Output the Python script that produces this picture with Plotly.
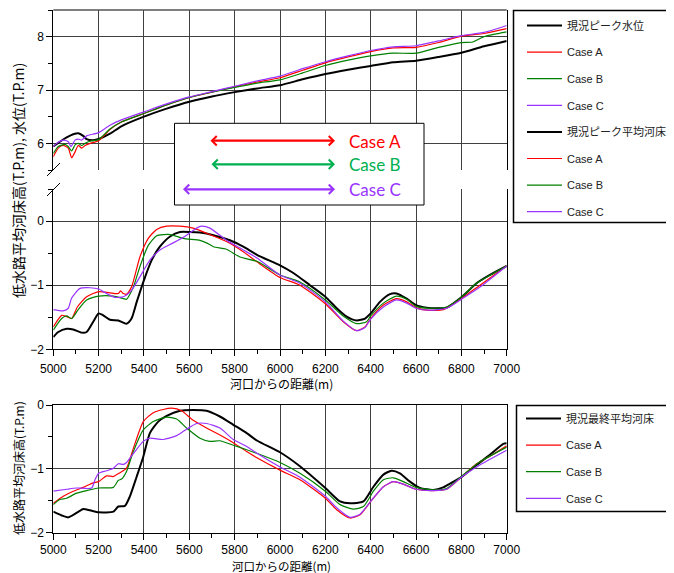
import plotly.graph_objects as go

# The page body has an 8 px margin, so the figure is drawn 8 px smaller
# and every reference pixel position is shifted by that offset.
OFF = 8
W, H = 674 - OFF, 573 - OFF

# ---------------- data ----------------
# Top chart: peak water level (水位)
wl_now_x = [5000, 5029, 5059, 5088, 5110, 5132, 5147, 5176, 5200, 5250, 5300, 5400, 5500, 5600, 5700, 5800, 5900, 6000, 6100, 6200, 6300, 6400, 6500, 6600, 6700, 6800, 6900, 7000]
wl_now_y = [5.94, 6.03, 6.11, 6.17, 6.19, 6.14, 6.08, 6.06, 6.08, 6.18, 6.32, 6.50, 6.65, 6.78, 6.88, 6.96, 7.03, 7.09, 7.20, 7.30, 7.38, 7.45, 7.52, 7.55, 7.62, 7.70, 7.82, 7.92]

wl_a_x = [5000, 5022, 5044, 5066, 5081, 5096, 5110, 5125, 5140, 5162, 5200, 5250, 5300, 5400, 5500, 5600, 5700, 5800, 5900, 6000, 6100, 6200, 6300, 6400, 6500, 6600, 6700, 6800, 6900, 7000]
wl_a_y = [5.75, 5.91, 5.96, 5.91, 5.73, 5.84, 5.96, 5.91, 5.96, 6.00, 6.05, 6.26, 6.40, 6.56, 6.72, 6.86, 6.96, 7.06, 7.15, 7.23, 7.37, 7.51, 7.62, 7.72, 7.79, 7.80, 7.89, 8.01, 8.06, 8.15]

wl_b_x = [5000, 5022, 5051, 5066, 5081, 5096, 5110, 5125, 5140, 5162, 5200, 5250, 5300, 5400, 5500, 5600, 5700, 5800, 5900, 6000, 6100, 6200, 6300, 6400, 6500, 6600, 6700, 6800, 6850, 6900, 7000]
wl_b_y = [5.81, 5.94, 5.98, 5.94, 5.86, 5.97, 6.00, 5.96, 6.00, 6.04, 6.07, 6.27, 6.40, 6.56, 6.72, 6.86, 6.96, 7.05, 7.13, 7.19, 7.32, 7.46, 7.56, 7.64, 7.69, 7.69, 7.80, 7.89, 7.90, 8.00, 8.09]

wl_c_x = [5000, 5022, 5044, 5066, 5078, 5096, 5110, 5125, 5147, 5200, 5250, 5300, 5400, 5500, 5600, 5700, 5800, 5900, 6000, 6100, 6200, 6300, 6400, 6500, 6600, 6700, 6800, 6900, 7000]
wl_c_y = [5.94, 6.02, 6.06, 6.03, 5.94, 6.06, 6.08, 6.06, 6.14, 6.20, 6.34, 6.44, 6.59, 6.74, 6.87, 6.97, 7.07, 7.17, 7.26, 7.40, 7.53, 7.64, 7.74, 7.81, 7.83, 7.92, 8.02, 8.08, 8.21]

# Top chart: mean riverbed at peak (平均河床)
bed_now_x = [5000, 5022, 5059, 5088, 5125, 5147, 5176, 5200, 5220, 5250, 5287, 5323, 5345, 5368, 5400, 5434, 5470, 5515, 5559, 5603, 5647, 5706, 5779, 5838, 5900, 6000, 6059, 6132, 6200, 6250, 6294, 6338, 6375, 6400, 6441, 6485, 6514, 6559, 6600, 6647, 6691, 6735, 6800, 6867, 6926, 7000]
bed_now_y = [-1.81, -1.73, -1.68, -1.69, -1.74, -1.73, -1.57, -1.44, -1.47, -1.54, -1.55, -1.60, -1.52, -1.26, -0.92, -0.61, -0.40, -0.24, -0.17, -0.17, -0.18, -0.22, -0.30, -0.40, -0.53, -0.69, -0.81, -1.00, -1.18, -1.36, -1.49, -1.55, -1.52, -1.44, -1.26, -1.14, -1.13, -1.21, -1.31, -1.35, -1.36, -1.35, -1.19, -0.97, -0.84, -0.70]

bed_a_x = [5000, 5037, 5059, 5081, 5106, 5147, 5200, 5250, 5287, 5297, 5309, 5323, 5345, 5382, 5419, 5456, 5500, 5559, 5617, 5676, 5764, 5838, 5900, 6000, 6088, 6200, 6279, 6338, 6375, 6400, 6456, 6514, 6559, 6600, 6647, 6720, 6800, 6882, 7000]
bed_a_y = [-1.65, -1.47, -1.49, -1.52, -1.34, -1.18, -1.10, -1.12, -1.13, -1.09, -1.13, -1.14, -1.03, -0.56, -0.27, -0.13, -0.08, -0.08, -0.11, -0.19, -0.32, -0.48, -0.64, -0.88, -1.00, -1.29, -1.57, -1.71, -1.65, -1.52, -1.31, -1.21, -1.26, -1.35, -1.39, -1.38, -1.21, -1.00, -0.70]

bed_b_x = [5000, 5037, 5059, 5081, 5110, 5147, 5200, 5265, 5309, 5323, 5353, 5382, 5419, 5456, 5515, 5573, 5647, 5676, 5706, 5764, 5823, 5900, 6000, 6088, 6200, 6279, 6338, 6382, 6400, 6456, 6514, 6559, 6600, 6676, 6735, 6800, 6867, 7000]
bed_b_y = [-1.70, -1.52, -1.48, -1.52, -1.38, -1.23, -1.17, -1.17, -1.21, -1.22, -1.03, -0.71, -0.38, -0.23, -0.21, -0.27, -0.30, -0.34, -0.40, -0.44, -0.56, -0.63, -0.84, -0.95, -1.23, -1.48, -1.60, -1.57, -1.48, -1.28, -1.17, -1.22, -1.33, -1.36, -1.34, -1.19, -0.97, -0.70]

bed_c_x = [5000, 5044, 5066, 5081, 5118, 5162, 5200, 5235, 5272, 5309, 5345, 5382, 5426, 5470, 5529, 5588, 5632, 5654, 5691, 5764, 5838, 5900, 6000, 6088, 6200, 6279, 6338, 6375, 6400, 6456, 6514, 6559, 6600, 6661, 6735, 6800, 6882, 7000]
bed_c_y = [-1.38, -1.40, -1.36, -1.20, -1.05, -1.04, -1.06, -1.13, -1.19, -1.18, -1.08, -0.87, -0.61, -0.45, -0.34, -0.22, -0.11, -0.08, -0.11, -0.30, -0.45, -0.58, -0.84, -0.97, -1.26, -1.56, -1.71, -1.66, -1.53, -1.34, -1.23, -1.28, -1.36, -1.39, -1.36, -1.22, -1.03, -0.70]

# Bottom chart: final mean riverbed (最終平均河床)
fin_now_x = [5000, 5037, 5066, 5103, 5132, 5162, 5200, 5265, 5287, 5316, 5338, 5368, 5397, 5426, 5463, 5500, 5559, 5617, 5676, 5735, 5794, 5853, 5900, 6000, 6088, 6200, 6265, 6309, 6368, 6412, 6456, 6492, 6529, 6573, 6617, 6676, 6720, 6750, 6800, 6867, 6926, 6985, 7000]
fin_now_y = [-1.67, -1.73, -1.76, -1.69, -1.63, -1.65, -1.68, -1.67, -1.59, -1.58, -1.43, -1.12, -0.81, -0.44, -0.26, -0.17, -0.09, -0.08, -0.09, -0.18, -0.31, -0.44, -0.56, -0.74, -0.96, -1.30, -1.51, -1.54, -1.51, -1.28, -1.09, -1.03, -1.07, -1.20, -1.30, -1.33, -1.29, -1.23, -1.13, -0.94, -0.78, -0.61, -0.60]

fin_a_x = [5000, 5044, 5088, 5132, 5176, 5200, 5235, 5265, 5294, 5323, 5353, 5397, 5441, 5485, 5522, 5566, 5617, 5676, 5735, 5794, 5853, 5900, 6000, 6088, 6200, 6250, 6309, 6353, 6400, 6456, 6500, 6544, 6600, 6676, 6735, 6800, 6867, 6941, 7000]
fin_a_y = [-1.54, -1.43, -1.35, -1.29, -1.22, -1.20, -1.11, -1.12, -1.06, -0.99, -0.68, -0.26, -0.12, -0.07, -0.05, -0.09, -0.24, -0.36, -0.47, -0.59, -0.73, -0.83, -1.02, -1.17, -1.46, -1.64, -1.77, -1.72, -1.51, -1.28, -1.20, -1.24, -1.32, -1.34, -1.32, -1.13, -0.92, -0.77, -0.64]

fin_b_x = [5000, 5029, 5059, 5103, 5147, 5200, 5265, 5287, 5301, 5323, 5353, 5397, 5441, 5500, 5544, 5588, 5647, 5691, 5735, 5794, 5853, 5900, 6000, 6088, 6200, 6265, 6323, 6368, 6412, 6456, 6500, 6544, 6600, 6676, 6735, 6800, 6882, 7000]
fin_b_y = [-1.56, -1.48, -1.46, -1.38, -1.34, -1.30, -1.29, -1.18, -1.16, -1.04, -0.73, -0.39, -0.26, -0.19, -0.22, -0.36, -0.52, -0.57, -0.56, -0.63, -0.70, -0.76, -0.90, -1.07, -1.35, -1.56, -1.63, -1.59, -1.35, -1.17, -1.14, -1.20, -1.29, -1.33, -1.31, -1.12, -0.89, -0.66]

fin_c_x = [5000, 5059, 5103, 5169, 5184, 5200, 5235, 5265, 5287, 5309, 5323, 5353, 5397, 5426, 5485, 5544, 5588, 5632, 5676, 5735, 5794, 5853, 5900, 6000, 6088, 6200, 6250, 6309, 6353, 6400, 6456, 6500, 6544, 6600, 6676, 6735, 6800, 6882, 7000]
fin_c_y = [-1.35, -1.32, -1.30, -1.30, -1.17, -1.07, -1.03, -0.99, -0.92, -0.93, -0.90, -0.76, -0.57, -0.52, -0.54, -0.48, -0.38, -0.29, -0.29, -0.36, -0.54, -0.65, -0.76, -0.97, -1.13, -1.43, -1.61, -1.76, -1.71, -1.51, -1.28, -1.20, -1.24, -1.32, -1.34, -1.32, -1.13, -0.94, -0.71]

names_top = ["現況ピーク水位", "Case A", "Case B", "Case C", "現況ピーク平均河床", "Case A", "Case B", "Case C"]
names_bot = ["現況最終平均河床", "Case A", "Case B", "Case C"]
x_ticks = [5000, 5200, 5400, 5600, 5800, 6000, 6200, 6400, 6600, 6800, 7000]
x_title = "河口からの距離(m)"
y_title_top = "低水路平均河床高(T.P.m), 水位(T.P.m)"
y_title_bot = "低水路平均河床高(T.P.m)"
case_labels = ["Case A", "Case B", "Case C"]

# ---------------- style ----------------
BLACK = "#000000"
RED = "#ff0000"
GREEN = "#008000"
PURPLE = "#9933ff"
GRID = "#404040"
LATIN = "Liberation Sans, Noto Sans CJK JP, sans-serif"
CJK = "Noto Sans CJK JP, sans-serif"


def px(p):
    return (p - OFF) / W


def py(p):
    return 1 - (p - OFF) / H


fig = go.Figure()


def add(x, y, name, color, width, xa, ya, legend, grp):
    fig.add_trace(go.Scatter(
        x=x, y=y, name=name, mode="lines",
        line=dict(color=color, width=width, shape="spline", smoothing=0.6),
        xaxis=xa, yaxis=ya, legend=legend, legendgroup=grp,
    ))


add(wl_now_x, wl_now_y, names_top[0], BLACK, 2, "x", "y", "legend", "g1")
add(wl_a_x, wl_a_y, names_top[1], RED, 1.2, "x", "y", "legend", "g2")
add(wl_b_x, wl_b_y, names_top[2], GREEN, 1.2, "x", "y", "legend", "g3")
add(wl_c_x, wl_c_y, names_top[3], PURPLE, 1.2, "x", "y", "legend", "g4")
add(bed_now_x, bed_now_y, names_top[4], BLACK, 2, "x2", "y2", "legend", "g5")
add(bed_a_x, bed_a_y, names_top[5], RED, 1.2, "x2", "y2", "legend", "g6")
add(bed_b_x, bed_b_y, names_top[6], GREEN, 1.2, "x2", "y2", "legend", "g7")
add(bed_c_x, bed_c_y, names_top[7], PURPLE, 1.2, "x2", "y2", "legend", "g8")
add(fin_now_x, fin_now_y, names_bot[0], BLACK, 2, "x3", "y3", "legend2", "h1")
add(fin_a_x, fin_a_y, names_bot[1], RED, 1.2, "x3", "y3", "legend2", "h2")
add(fin_b_x, fin_b_y, names_bot[2], GREEN, 1.2, "x3", "y3", "legend2", "h3")
add(fin_c_x, fin_c_y, names_bot[3], PURPLE, 1.2, "x3", "y3", "legend2", "h4")

xdom = [px(53.3), px(506.7)]
tickfont = dict(family=LATIN, size=12, color="#000")


def xaxis(anchor, labels, line, mirror=False, standoff=2):
    return dict(
        domain=xdom, anchor=anchor, range=[5000, 7000], tickvals=x_ticks,
        showticklabels=labels, ticks="outside" if labels else "", ticklen=6,
        tickcolor=BLACK, showgrid=True, gridcolor=GRID, gridwidth=1,
        showline=line, linecolor=BLACK, linewidth=1, mirror=mirror,
        zeroline=False, tickfont=tickfont, ticklabelstandoff=standoff,
        automargin=False,
        minor=dict(dtick=100, tick0=5000, ticks="outside" if labels else "",
                   ticklen=4, tickcolor=BLACK, showgrid=False),
    )


def yaxis(dom, rng, anchor):
    return dict(
        domain=dom, anchor=anchor, range=rng, dtick=1, tick0=0,
        ticks="outside", ticklen=6, tickcolor=BLACK,
        showgrid=True, gridcolor=GRID, gridwidth=1,
        showline=True, linecolor=BLACK, linewidth=1, mirror=True,
        zeroline=False, tickfont=tickfont, automargin=False,
        minor=dict(dtick=0.5, tick0=0, ticks="outside", ticklen=4,
                   tickcolor=BLACK, showgrid=False),
    )


leg_font = dict(family=LATIN, size=11, color="#222")
fig.update_layout(
    width=W, height=H,
    margin=dict(l=0, r=0, t=0, b=0, autoexpand=False),
    paper_bgcolor="white", plot_bgcolor="white",
    xaxis=xaxis("y", False, False),
    yaxis=yaxis([py(170), py(10)], [5.5, 8.5], "x"),
    xaxis2=xaxis("y2", True, True),
    yaxis2=yaxis([py(349.3), py(189)], [-2, 0.5], "x2"),
    xaxis3=xaxis("y3", True, True, mirror=True, standoff=0),
    yaxis3=yaxis([py(532.7), py(405)], [-2, 0], "x3"),
    legend=dict(x=px(522), y=py(11), xanchor="left", yanchor="top",
                bgcolor="rgba(0,0,0,0)", borderwidth=0, font=leg_font,
                tracegroupgap=7.6, traceorder="grouped", itemwidth=35),
    legend2=dict(x=px(521), y=py(404), xanchor="left", yanchor="top",
                 bgcolor="rgba(0,0,0,0)", borderwidth=0, font=leg_font,
                 tracegroupgap=7.6, traceorder="grouped", itemwidth=35),
    showlegend=True,
)

shapes = []
# top border of upper panel
shapes.append(dict(type="line", xref="paper", yref="paper",
                   x0=px(53.3), x1=px(506.7), y0=py(10), y1=py(10),
                   line=dict(color="#555", width=1.5)))
# axis break marks
for a, b in [(176, 163), (196, 183)]:
    shapes.append(dict(type="line", xref="paper", yref="paper",
                       x0=px(47), y0=py(a), x1=px(60), y1=py(b),
                       line=dict(color=BLACK, width=1)))
# Case annotation box
shapes.append(dict(type="rect", xref="paper", yref="paper", layer="above",
                   x0=px(174.5), x1=px(424), y0=py(205), y1=py(123.3),
                   fillcolor="white", line=dict(color=BLACK, width=1)))
# legend frames
shapes.append(dict(type="rect", xref="paper", yref="paper",
                   x0=px(513.5), x1=px(673), y0=py(222.5), y1=py(10.5),
                   line=dict(color=BLACK, width=1.5)))
shapes.append(dict(type="rect", xref="paper", yref="paper",
                   x0=px(516.5), x1=px(673), y0=py(511.5), y1=py(405.5),
                   line=dict(color=BLACK, width=1.5)))
fig.update_layout(shapes=shapes)

ann = []
arrow_specs = [(209, 140.7, RED, case_labels[0], "#ff0000"),
               (210, 164.3, "#00b050", case_labels[1], "#00b050"),
               (181.5, 189.3, PURPLE, case_labels[2], "#9933ff")]
for x0, yy, col, lab, tcol in arrow_specs:
    ann.append(dict(xref="paper", yref="paper", x=px(335), y=py(yy),
                    ax=-(335 - x0), ay=0, axref="pixel", ayref="pixel",
                    text="", showarrow=True, arrowside="end+start",
                    arrowhead=4, startarrowhead=4, arrowsize=0.8,
                    startarrowsize=0.8, arrowwidth=2.3, arrowcolor=col))
    ann.append(dict(xref="paper", yref="paper", x=px(374.5), y=py(yy + 0.5),
                    text=lab, showarrow=False, xanchor="center", yanchor="middle",
                    font=dict(family="Lato, sans-serif", size=17, color=tcol)))

ann.append(dict(xref="paper", yref="paper", x=px(281), y=py(383.5), text=x_title,
                showarrow=False, xanchor="center", yanchor="middle",
                font=dict(family=CJK, size=12, color="#000")))
ann.append(dict(xref="paper", yref="paper", x=px(281), y=py(566), text=x_title,
                showarrow=False, xanchor="center", yanchor="middle",
                font=dict(family=CJK, size=11.5, color="#000")))
ann.append(dict(xref="paper", yref="paper", x=px(18), y=py(181), text=y_title_top,
                showarrow=False, textangle=-90, xanchor="center", yanchor="middle",
                font=dict(family=CJK, size=14, color="#000")))
ann.append(dict(xref="paper", yref="paper", x=px(18), y=py(468), text=y_title_bot,
                showarrow=False, textangle=-90, xanchor="center", yanchor="middle",
                font=dict(family=CJK, size=12, color="#000")))
fig.update_layout(annotations=ann)

fig.write_html("out.html")
